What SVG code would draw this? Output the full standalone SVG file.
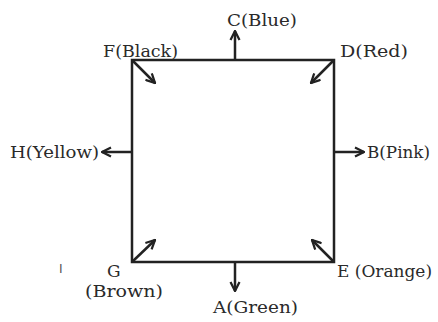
<svg xmlns="http://www.w3.org/2000/svg" width="438" height="322" viewBox="0 0 438 322">
<style>
.t{font-family:"DejaVu Serif","Liberation Serif",serif;font-size:17px;fill:#2a2a2a}
.c line{stroke:#222;stroke-width:2.5;marker-end:url(#ah)}
</style>
<defs>
<marker id="ah" viewBox="0 0 10 10" refX="9" refY="5" markerWidth="4.5" markerHeight="4.5" orient="auto" markerUnits="strokeWidth">
<polyline points="1,1 9,5 1,9" fill="none" stroke="#222" stroke-width="2"/>
</marker>
</defs>
<rect width="438" height="322" fill="#fff"/>
<g id="square"><rect x="132" y="60" width="202" height="202" fill="none" stroke="#222" stroke-width="2.5"/></g>
<g class="c" id="connectors">
<line x1="235" y1="60" x2="235" y2="31"/>
<line x1="235" y1="262" x2="235" y2="291"/>
<line x1="132" y1="152" x2="102" y2="152"/>
<line x1="334" y1="152" x2="364" y2="152"/>
<line x1="132" y1="60" x2="155" y2="83"/>
<line x1="334" y1="60" x2="311" y2="83"/>
<line x1="132" y1="262" x2="155" y2="240"/>
<line x1="334" y1="262" x2="312" y2="240"/>
</g>
<g id="C"><text class="t" x="227" y="26" textLength="70" lengthAdjust="spacingAndGlyphs">C(Blue)</text></g>
<g id="F"><text class="t" x="103" y="57" textLength="75" lengthAdjust="spacingAndGlyphs">F(Black)</text></g>
<g id="D"><text class="t" x="340" y="57" textLength="68" lengthAdjust="spacingAndGlyphs">D(Red)</text></g>
<g id="H"><text class="t" x="10" y="158" textLength="89" lengthAdjust="spacingAndGlyphs">H(Yellow)</text></g>
<g id="B"><text class="t" x="367" y="158" textLength="63" lengthAdjust="spacingAndGlyphs">B(Pink)</text></g>
<g id="G"><text class="t" x="107" y="277">G</text><text class="t" x="85" y="297" textLength="78" lengthAdjust="spacingAndGlyphs">(Brown)</text></g>
<g id="E"><text class="t" x="337" y="277" textLength="95" lengthAdjust="spacingAndGlyphs">E (Orange)</text></g>
<g id="A"><text class="t" x="213" y="313" textLength="85" lengthAdjust="spacingAndGlyphs">A(Green)</text></g>
<g id="mark"><text x="59" y="273" style="font-family:'Liberation Sans',sans-serif;font-size:13px;fill:#555">I</text></g>
</svg>
